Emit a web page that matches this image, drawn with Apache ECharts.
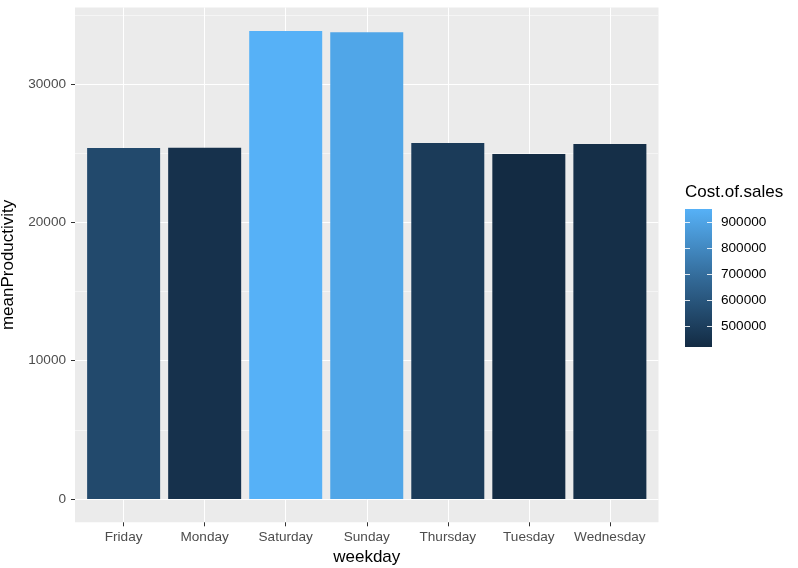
<!DOCTYPE html>
<html>
<head>
<meta charset="utf-8">
<script src="https://cdn.jsdelivr.net/npm/echarts@6/dist/echarts.min.js"></script>
<style>html,body{margin:0;padding:0;background:#fff}#c{width:798px;height:568px}</style>
</head>
<body>
<div id="c"></div>
<script>
// ---- data ----
const weekdays = ['Friday', 'Monday', 'Saturday', 'Sunday', 'Thursday', 'Tuesday', 'Wednesday'];
const meanProductivity = [25390, 25410, 33860, 33760, 25750, 24960, 25680];
const costOfSales = [547000, 447000, 950000, 908000, 489000, 420000, 436000];
const yMajorTicks = [0, 10000, 20000, 30000];
const yMinorTicks = [5000, 15000, 25000, 35000];
const legendTicks = [500000, 600000, 700000, 800000, 900000];

const FONT = '"Liberation Sans", Arial, sans-serif';
const LOW = '#132B43', MID = '#336A98', HIGH = '#56B1F7';
const TXT = 13.6, TITLE = 17;

const yMax = Math.max(...meanProductivity);
const yLo = -0.05 * yMax, yHi = 1.05 * yMax;
const cMin = Math.min(...costOfSales), cMax = Math.max(...costOfSales);
const xIdx = weekdays.map((d, i) => i + 1);
const plain = v => String(Math.round(v));

const chart = echarts.init(document.getElementById('c'), null, { renderer: 'canvas' });
chart.setOption({
  animation: false,
  backgroundColor: '#ffffff',
  textStyle: { fontFamily: FONT },
  title: {
    text: 'Cost.of.sales', left: 685, top: 184, padding: 0,
    textStyle: { fontFamily: FONT, fontSize: TITLE, fontWeight: 'normal', color: '#000000' }
  },
  grid: [
    { left: 75, top: 7.5, width: 583.5, height: 514.8, show: true, backgroundColor: '#EBEBEB', borderWidth: 0,
      containLabel: false, outerBoundsMode: 'none' },
    { left: 685, top: 209, width: 27, height: 138, show: true, borderWidth: 0,
      containLabel: false, outerBoundsMode: 'none',
      backgroundColor: { type: 'linear', x: 0, y: 0, x2: 0, y2: 1,
        colorStops: [{ offset: 0, color: HIGH }, { offset: 0.5, color: MID }, { offset: 1, color: LOW }] } }
  ],
  xAxis: [
    {
      type: 'value', gridIndex: 0, min: 0.4, max: 7.6, position: 'bottom',
      name: 'weekday', nameLocation: 'middle', nameGap: 27,
      nameTextStyle: { fontFamily: FONT, fontSize: TITLE, color: '#000000' },
      axisLine: { show: false, onZero: false },
      axisTick: { show: true, length: 4, lineStyle: { color: '#333333', width: 1 }, customValues: xIdx },
      axisLabel: { show: true, margin: 8, fontSize: TXT, color: '#4D4D4D', fontFamily: FONT,
        customValues: xIdx, formatter: v => weekdays[Math.round(v) - 1] || '' },
      splitLine: { show: true, lineStyle: { color: '#FFFFFF', width: 1 } }
    },
    { type: 'value', gridIndex: 1, min: 0, max: 1, show: false, axisLine: { onZero: false } }
  ],
  yAxis: [
    {
      type: 'value', gridIndex: 0, min: yLo, max: yHi, position: 'left',
      name: 'meanProductivity', nameLocation: 'middle', nameGap: 50, nameRotate: 90,
      nameTextStyle: { fontFamily: FONT, fontSize: TITLE, color: '#000000' },
      axisLine: { show: false, onZero: false },
      axisTick: { show: true, length: 4, lineStyle: { color: '#333333', width: 1 }, customValues: yMajorTicks },
      axisLabel: { show: true, margin: 9, fontSize: TXT, color: '#4D4D4D', fontFamily: FONT,
        customValues: yMajorTicks, formatter: plain },
      splitLine: { show: true, lineStyle: { color: '#FFFFFF', width: 1 } }
    },
    {
      type: 'value', gridIndex: 0, min: yLo, max: yHi, position: 'left',
      axisLine: { show: false, onZero: false },
      axisTick: { show: true, length: 0, lineStyle: { color: 'rgba(0,0,0,0)' }, customValues: yMinorTicks },
      axisLabel: { show: false, customValues: yMinorTicks },
      splitLine: { show: true, lineStyle: { color: '#F5F5F5', width: 1 } }
    },
    {
      type: 'value', gridIndex: 1, min: cMin, max: cMax, position: 'right',
      axisLine: { show: false, onZero: false },
      axisTick: { show: true, inside: true, length: 5, lineStyle: { color: '#FFFFFF', width: 1, opacity: 0.85 }, customValues: legendTicks },
      axisLabel: { show: true, margin: 9, fontSize: TXT, color: '#000000', fontFamily: FONT,
        customValues: legendTicks, formatter: plain },
      splitLine: { show: false }
    },
    {
      type: 'value', gridIndex: 1, min: cMin, max: cMax, position: 'left',
      axisLine: { show: false, onZero: false },
      axisTick: { show: true, inside: true, length: 5, lineStyle: { color: '#FFFFFF', width: 1, opacity: 0.85 }, customValues: legendTicks },
      axisLabel: { show: false },
      splitLine: { show: false }
    }
  ],
  visualMap: {
    type: 'continuous', show: false, seriesIndex: 0, dimension: 2,
    min: cMin, max: cMax, inRange: { color: [LOW, MID, HIGH] }
  },
  series: [{
    type: 'bar', xAxisIndex: 0, yAxisIndex: 0, barWidth: 73,
    data: weekdays.map((d, i) => [i + 1, meanProductivity[i], costOfSales[i]])
  }]
});
</script>
</body>
</html>
